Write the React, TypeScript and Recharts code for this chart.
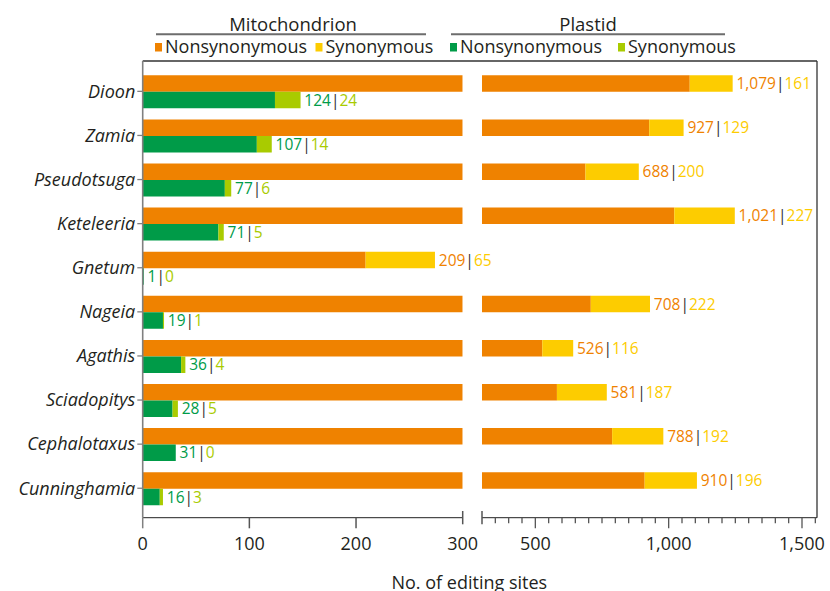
import React from 'react';
import { BarChart, Bar, XAxis, YAxis, LabelList } from 'recharts';

// Gymnosperm RNA editing sites, split into mitochondrial and plastid genomes.
const species = [
  'Dioon',
  'Zamia',
  'Pseudotsuga',
  'Keteleeria',
  'Gnetum',
  'Nageia',
  'Agathis',
  'Sciadopitys',
  'Cephalotaxus',
  'Cunninghamia',
];
const mitoNonsyn = [1079, 927, 688, 1021, 209, 708, 526, 581, 788, 910];
const mitoSyn = [161, 129, 200, 227, 65, 222, 116, 187, 192, 196];
const plastidNonsyn = [124, 107, 77, 71, 1, 19, 36, 28, 31, 16];
const plastidSyn = [24, 14, 6, 5, 0, 1, 4, 5, 0, 3];

// Broken x axis: a linear 0–300 segment and a compressed 300–1,550 segment.
const leftTicks = [0, 100, 200, 300];
const rightTicks = [
  300, 350, 400, 450, 500, 550, 600, 650, 700, 750, 800, 850, 900, 950, 1000,
  1050, 1100, 1150, 1200, 1250, 1300, 1350, 1400, 1450, 1500, 1550,
];
const rightLabelled = [500, 1000, 1500];
const breakAt = 300;
const rightMax = 1556.25;

const COLORS = {
  mitoN: '#EF8200',
  mitoS: '#FDCC00',
  plN: '#009B48',
  plS: '#A9CB00',
  text: '#231F20',
};
const FONT = '"Open Sans", "Noto Sans", sans-serif';

const rows = species.map((name, i) => ({
  name,
  mitoN: mitoNonsyn[i],
  mitoS: mitoSyn[i],
  plN: plastidNonsyn[i],
  plS: plastidSyn[i],
}));

const W = 830;
const H = 591;
const PLOT_TOP = 61;
const AXIS_Y = 517.7;
const X_AXIS_H = 40;
const BOTTOM = H - AXIS_Y - X_AXIS_H;
const LEFT_PLOT_X = 142.7;
const LEFT_PLOT_END = 462.7;
const RIGHT_PLOT_X = 482;
const RIGHT_PLOT_END = 817;
const LEFT_SVG_W = 600;
const RIGHT_SVG_X = 470;

const fmt = (v: number) => v.toLocaleString('en-US');

// Tick marks for the linear segment; the 300 tick doubles as a break mark.
const LeftTick = (props: any) => {
  const { x, y, payload } = props;
  const v = payload.value as number;
  const isBreak = v === breakAt;
  return (
    <g>
      <line
        x1={x}
        x2={x}
        y1={isBreak ? y - 6.7 : y}
        y2={isBreak ? y + 6.6 : y + 10.6}
        stroke={v === 0 ? '#808080' : '#555'}
        strokeWidth={1.5}
      />
      <text x={x} y={y + 32.3} textAnchor="middle" fontSize={18} fontFamily={FONT} fill={COLORS.text}>
        {fmt(v)}
      </text>
    </g>
  );
};

// Tick marks for the compressed segment: minor every 50, labelled majors.
const RightTick = (props: any) => {
  const { x, y, payload } = props;
  const v = payload.value as number;
  if (v === breakAt) {
    return <line x1={x} x2={x} y1={y - 6.7} y2={y + 6.6} stroke="#555" strokeWidth={1.5} />;
  }
  const major = rightLabelled.includes(v);
  return (
    <g>
      <line x1={x} x2={x} y1={y} y2={y + (major ? 10.6 : 5.6)} stroke="#555" strokeWidth={1.3} />
      {major && (
        <text x={x} y={y + 32.3} textAnchor="middle" fontSize={18} fontFamily={FONT} fill={COLORS.text}>
          {fmt(v)}
        </text>
      )}
    </g>
  );
};

const SpeciesTick = (props: any) => {
  const { x, y, payload } = props;
  return (
    <text
      x={x}
      y={y}
      dy={6.3}
      textAnchor="end"
      fontSize={18}
      fontStyle="italic"
      fontFamily={FONT}
      fill={COLORS.text}
    >
      {payload.value}
    </text>
  );
};

// "nonsyn|syn" label placed after the end of the stacked pair.
// anchor 'nonsyn': the label sits on the nonsynonymous bar (which starts at 0),
// and the stack end is extended by the synonymous share of that bar's scale.
// anchor 'syn': the label sits on the synonymous bar, whose right edge is the stack end.
const pairLabel =
  (
    nonsyn: number[],
    syn: number[],
    cN: string,
    cS: string,
    anchor: 'nonsyn' | 'syn',
    show: (total: number) => boolean
  ) =>
  (props: any) => {
    const i = species.indexOf(String(props.value));
    if (i < 0) return null;
    const n = nonsyn[i];
    const s = syn[i];
    if (!show(n + s)) return null;
    const vb = props.viewBox && props.viewBox.width !== undefined ? props.viewBox : props;
    const bx = Number(vb.x);
    const bw = Number(vb.width);
    const by = Number(vb.y);
    const bh = Number(vb.height);
    const end = anchor === 'nonsyn' ? bx + (bw * (n + s)) / n : bx + bw;
    return (
      <text key={`lbl-${i}`} x={end + 3.8} y={by + bh / 2 + 5.6} fontSize={15.5} fontFamily={FONT}>
        <tspan fill={cN}>{fmt(n)}</tspan>
        <tspan fill="#333">|</tspan>
        <tspan fill={cS}>{fmt(s)}</tspan>
      </text>
    );
  };

const LegendItem = ({ x, color, label }: { x: number; color: string; label: string }) => (
  <g>
    <rect x={x} y={43} width={7} height={8.5} fill={color} />
    <text x={x + 10} y={53.3} fontSize={18} fontFamily={FONT} fill={COLORS.text}>
      {label}
    </text>
  </g>
);

export default function App() {
  return (
    <div style={{ position: 'absolute', left: 0, top: 0, width: W, height: H, background: '#fff' }}>
      {/* Headers, legend, frame and axis title */}
      <svg width={W} height={H} style={{ position: 'absolute', left: 0, top: 0 }}>
        <text x={293} y={31} textAnchor="middle" fontSize={18.5} fontFamily={FONT} fill={COLORS.text}>
          Mitochondrion
        </text>
        <line x1={156} x2={426} y1={34.3} y2={34.3} stroke="#6d6d6d" strokeWidth={2} />
        <text x={588} y={31} textAnchor="middle" fontSize={18.5} fontFamily={FONT} fill={COLORS.text}>
          Plastid
        </text>
        <line x1={451} x2={725} y1={34.3} y2={34.3} stroke="#6d6d6d" strokeWidth={2} />
        <LegendItem x={155} color={COLORS.mitoN} label="Nonsynonymous" />
        <LegendItem x={315.5} color={COLORS.mitoS} label="Synonymous" />
        <LegendItem x={450} color={COLORS.plN} label="Nonsynonymous" />
        <LegendItem x={618} color={COLORS.plS} label="Synonymous" />
        <line x1={LEFT_PLOT_X} x2={RIGHT_PLOT_END} y1={PLOT_TOP} y2={PLOT_TOP} stroke="#333" strokeWidth={1.3} />
        <line x1={RIGHT_PLOT_END} x2={RIGHT_PLOT_END} y1={PLOT_TOP} y2={AXIS_Y} stroke="#333" strokeWidth={1.3} />
        <text x={469.3} y={588.6} textAnchor="middle" fontSize={18} fontFamily={FONT} fill={COLORS.text}>
          No. of editing sites
        </text>
      </svg>

      {/* 0–300 segment */}
      <div style={{ position: 'absolute', left: 0, top: 0 }}>
        <BarChart
          width={LEFT_SVG_W}
          height={H}
          data={rows}
          layout="vertical"
          margin={{ top: PLOT_TOP, right: LEFT_SVG_W - LEFT_PLOT_END, bottom: BOTTOM, left: 0 }}
          barSize={16.5}
          barGap={0}
        >
          <XAxis
            type="number"
            domain={[0, breakAt]}
            ticks={leftTicks}
            allowDataOverflow
            interval={0}
            height={X_AXIS_H}
            tickSize={0}
            tickMargin={0}
            tickLine={false}
            axisLine={{ stroke: '#222', strokeWidth: 1 }}
            tick={<LeftTick />}
          />
          <YAxis
            type="category"
            dataKey="name"
            width={LEFT_PLOT_X}
            padding={{ top: 8.3, bottom: 7.4 }}
            tickSize={5.4}
            tickMargin={2}
            tickLine={{ stroke: '#808080', strokeWidth: 1.3 }}
            axisLine={{ stroke: '#808080', strokeWidth: 1.6 }}
            interval={0}
            tick={<SpeciesTick />}
          />
          <Bar dataKey="mitoN" stackId="mito" fill={COLORS.mitoN} isAnimationActive={false}>
            <LabelList
              dataKey="name"
              content={pairLabel(mitoNonsyn, mitoSyn, COLORS.mitoN, COLORS.mitoS, 'nonsyn', (t) => t < breakAt)}
            />
          </Bar>
          <Bar dataKey="mitoS" stackId="mito" fill={COLORS.mitoS} isAnimationActive={false} />
          <Bar dataKey="plN" stackId="plastid" fill={COLORS.plN} isAnimationActive={false}>
            <LabelList
              dataKey="name"
              content={pairLabel(plastidNonsyn, plastidSyn, COLORS.plN, COLORS.plS, 'nonsyn', () => true)}
            />
          </Bar>
          <Bar dataKey="plS" stackId="plastid" fill={COLORS.plS} isAnimationActive={false} />
        </BarChart>
      </div>

      {/* 300–1,550 segment */}
      <div style={{ position: 'absolute', left: RIGHT_SVG_X, top: 0 }}>
        <BarChart
          width={W - RIGHT_SVG_X}
          height={H}
          data={rows}
          layout="vertical"
          margin={{
            top: PLOT_TOP,
            right: W - RIGHT_PLOT_END,
            bottom: BOTTOM,
            left: RIGHT_PLOT_X - RIGHT_SVG_X,
          }}
          barSize={16.5}
          barGap={0}
        >
          <XAxis
            type="number"
            domain={[breakAt, rightMax]}
            ticks={rightTicks}
            allowDataOverflow
            interval={0}
            height={X_AXIS_H}
            tickSize={0}
            tickMargin={0}
            tickLine={false}
            axisLine={{ stroke: '#222', strokeWidth: 1 }}
            tick={<RightTick />}
          />
          <YAxis type="category" dataKey="name" hide width={0} padding={{ top: 8.3, bottom: 7.4 }} />
          <Bar dataKey="mitoN" stackId="mito" fill={COLORS.mitoN} isAnimationActive={false} />
          <Bar dataKey="mitoS" stackId="mito" fill={COLORS.mitoS} isAnimationActive={false}>
            <LabelList
              dataKey="name"
              content={pairLabel(mitoNonsyn, mitoSyn, COLORS.mitoN, COLORS.mitoS, 'syn', (t) => t >= breakAt)}
            />
          </Bar>
          <Bar dataKey="plN" stackId="plastid" fill={COLORS.plN} isAnimationActive={false} />
          <Bar dataKey="plS" stackId="plastid" fill={COLORS.plS} isAnimationActive={false} />
        </BarChart>
      </div>
    </div>
  );
}
